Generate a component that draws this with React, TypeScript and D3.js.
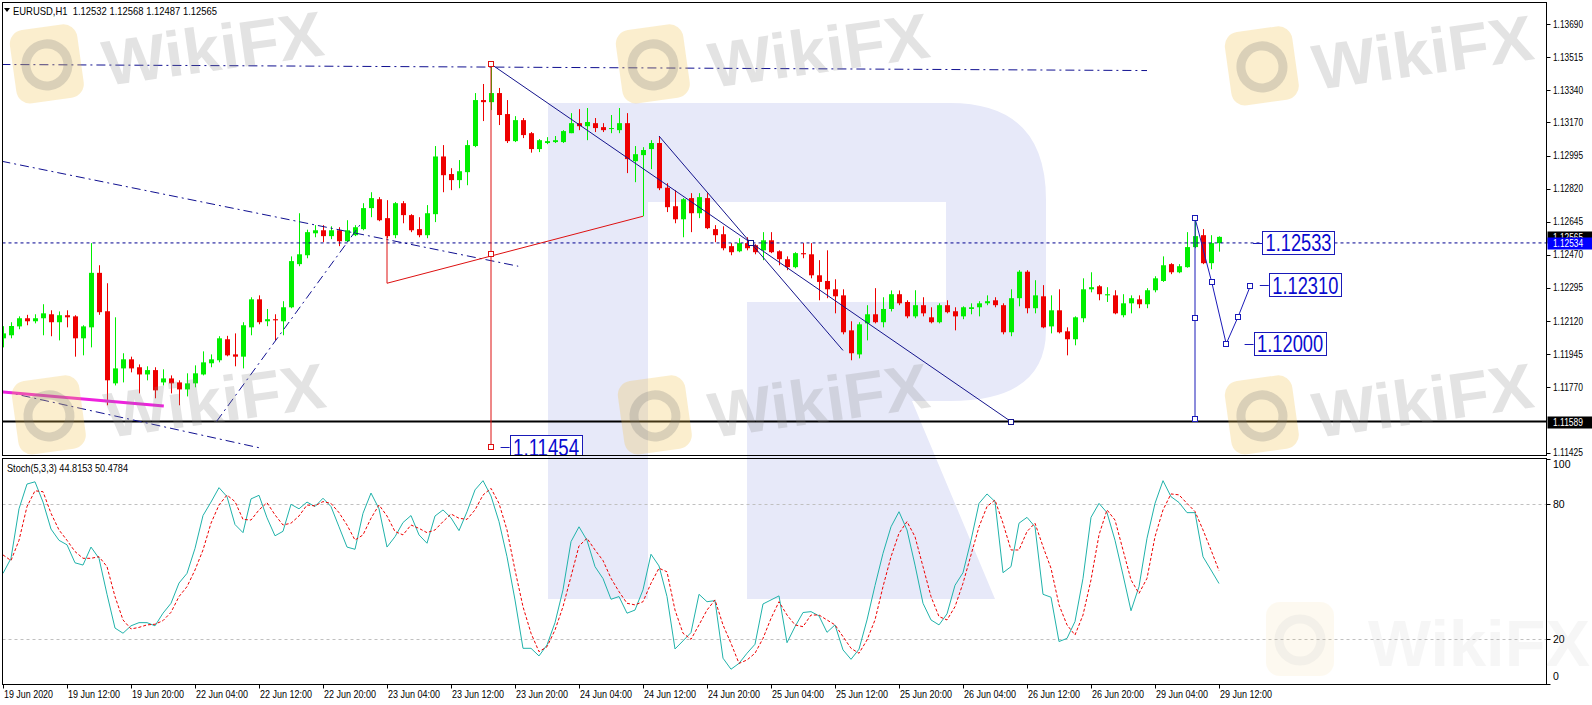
import React, { useEffect, useRef } from 'react'
import * as d3 from 'd3'

// EURUSD H1, bars from 19 Jun 2020 04:00 to 29 Jun 2020 12:00
const opens = [
  1.12029, 1.12045, 1.12092, 1.12135, 1.12119, 1.12135, 1.12156, 1.12114, 1.12151, 1.12145,
  1.12029, 1.12087, 1.12375, 1.12172, 1.11791, 1.11870, 1.11918, 1.11876, 1.11838, 1.11861,
  1.11796, 1.11817, 1.11796, 1.11759, 1.11791, 1.11838, 1.11897, 1.11913, 1.12024, 1.11944,
  1.11932, 1.12087, 1.12235, 1.12119, 1.12130, 1.12119, 1.12193, 1.12421, 1.12468, 1.12584,
  1.12600, 1.12569, 1.12600, 1.12542, 1.12574, 1.12606, 1.12717, 1.12764, 1.12664, 1.12574,
  1.12743, 1.12680, 1.12606, 1.12574, 1.12685, 1.12990, 1.12897, 1.12865, 1.12907, 1.13045,
  1.13288, 1.13277, 1.13325, 1.13214, 1.13071, 1.13182, 1.13113, 1.13029, 1.13061, 1.13066,
  1.13066, 1.13113, 1.13166, 1.13150, 1.13166, 1.13145, 1.13135, 1.13129, 1.13166, 1.12965,
  1.12997, 1.13029, 1.13061, 1.12825, 1.12727, 1.12658, 1.12770, 1.12690, 1.12770, 1.12606,
  1.12579, 1.12516, 1.12489, 1.12532, 1.12521, 1.12494, 1.12547, 1.12489, 1.12447, 1.12405,
  1.12479, 1.12473, 1.12362, 1.12332, 1.12288, 1.12256, 1.12071, 1.11944, 1.12108, 1.12156,
  1.12114, 1.12184, 1.12262, 1.12221, 1.12145, 1.12204, 1.12140, 1.12114, 1.12204, 1.12172,
  1.12145, 1.12184, 1.12193, 1.12214, 1.12230, 1.12204, 1.12061, 1.12241, 1.12381, 1.12188,
  1.12251, 1.12092, 1.12177, 1.12066, 1.12024, 1.12135, 1.12288, 1.12304, 1.12256, 1.12256,
  1.12151, 1.12214, 1.12235, 1.12209, 1.12283, 1.12332, 1.12421, 1.12378, 1.12405, 1.12511,
  1.12574, 1.12426, 1.12532,
]
const highs = [
  1.12093, 1.12114, 1.12145, 1.12153, 1.12156, 1.12209, 1.12177, 1.12171, 1.12177, 1.12151,
  1.12098, 1.12532, 1.12415, 1.12320, 1.12140, 1.11950, 1.11932, 1.11891, 1.11881, 1.11876,
  1.11865, 1.11833, 1.11807, 1.11844, 1.11886, 1.11960, 1.11944, 1.12040, 1.12042, 1.12055,
  1.12114, 1.12246, 1.12256, 1.12184, 1.12156, 1.12225, 1.12462, 1.12690, 1.12603, 1.12627,
  1.12627, 1.12621, 1.12616, 1.12653, 1.12627, 1.12743, 1.12801, 1.12775, 1.12759, 1.12749,
  1.12754, 1.12685, 1.12669, 1.12733, 1.13045, 1.13050, 1.12928, 1.12971, 1.13076, 1.13325,
  1.13373, 1.13468, 1.13352, 1.13288, 1.13203, 1.13193, 1.13119, 1.13082, 1.13092, 1.13098,
  1.13129, 1.13219, 1.13240, 1.13246, 1.13193, 1.13166, 1.13209, 1.13246, 1.13219, 1.13045,
  1.13039, 1.13076, 1.13098, 1.12849, 1.12812, 1.12770, 1.12796, 1.12796, 1.12796, 1.12627,
  1.12621, 1.12532, 1.12558, 1.12563, 1.12526, 1.12590, 1.12590, 1.12494, 1.12462, 1.12484,
  1.12532, 1.12532, 1.12442, 1.12494, 1.12341, 1.12288, 1.12119, 1.12114, 1.12204, 1.12294,
  1.12246, 1.12282, 1.12282, 1.12230, 1.12283, 1.12246, 1.12193, 1.12214, 1.12230, 1.12193,
  1.12198, 1.12214, 1.12225, 1.12256, 1.12246, 1.12214, 1.12288, 1.12389, 1.12389, 1.12336,
  1.12310, 1.12256, 1.12288, 1.12087, 1.12145, 1.12346, 1.12378, 1.12310, 1.12299, 1.12283,
  1.12262, 1.12256, 1.12256, 1.12294, 1.12357, 1.12462, 1.12426, 1.12421, 1.12590, 1.12664,
  1.12606, 1.12574, 1.12568,
]
const lows = [
  1.11981, 1.12029, 1.12077, 1.12098, 1.12108, 1.12045, 1.12040, 1.12018, 1.12087, 1.11932,
  1.11939, 1.11981, 1.12153, 1.11675, 1.11780, 1.11796, 1.11849, 1.11738, 1.11807, 1.11712,
  1.11780, 1.11738, 1.11675, 1.11722, 1.11770, 1.11833, 1.11876, 1.11902, 1.11934, 1.11881,
  1.11870, 1.12045, 1.12103, 1.12093, 1.12018, 1.12045, 1.12188, 1.12410, 1.12452, 1.12563,
  1.12537, 1.12553, 1.12516, 1.12537, 1.12569, 1.12600, 1.12669, 1.12648, 1.12558, 1.12558,
  1.12637, 1.12590, 1.12563, 1.12558, 1.12643, 1.12801, 1.12812, 1.12822, 1.12838, 1.13039,
  1.13177, 1.13235, 1.13156, 1.13061, 1.13066, 1.13087, 1.13010, 1.13013, 1.13055, 1.13061,
  1.13061, 1.13113, 1.13129, 1.13076, 1.13119, 1.13119, 1.13113, 1.13113, 1.12902, 1.12854,
  1.12674, 1.12923, 1.12812, 1.12696, 1.12637, 1.12563, 1.12590, 1.12664, 1.12606, 1.12537,
  1.12494, 1.12468, 1.12484, 1.12494, 1.12473, 1.12442, 1.12479, 1.12415, 1.12389, 1.12399,
  1.12452, 1.12346, 1.12230, 1.12241, 1.12161, 1.12050, 1.11913, 1.11923, 1.12018, 1.12108,
  1.12087, 1.12171, 1.12204, 1.12135, 1.12135, 1.12145, 1.12108, 1.12108, 1.12161, 1.12071,
  1.12130, 1.12156, 1.12145, 1.12204, 1.12193, 1.12050, 1.12040, 1.12198, 1.12161, 1.12161,
  1.12082, 1.12055, 1.12055, 1.11939, 1.11992, 1.12114, 1.12272, 1.12230, 1.12221, 1.12156,
  1.12140, 1.12161, 1.12188, 1.12188, 1.12272, 1.12327, 1.12368, 1.12373, 1.12402, 1.12505,
  1.12421, 1.12394, 1.12487,
]
const closes = [
  1.12055, 1.12094, 1.12135, 1.12119, 1.12135, 1.12161, 1.12114, 1.12151, 1.12140, 1.12029,
  1.12092, 1.12375, 1.12167, 1.11807, 1.11870, 1.11918, 1.11870, 1.11838, 1.11861, 1.11754,
  1.11817, 1.11791, 1.11759, 1.11791, 1.11844, 1.11902, 1.11918, 1.12029, 1.11939, 1.11932,
  1.12098, 1.12235, 1.12114, 1.12130, 1.12124, 1.12193, 1.12437, 1.12473, 1.12590, 1.12600,
  1.12569, 1.12600, 1.12542, 1.12600, 1.12616, 1.12717, 1.12770, 1.12653, 1.12569, 1.12743,
  1.12680, 1.12600, 1.12574, 1.12690, 1.12990, 1.12891, 1.12865, 1.12912, 1.13050, 1.13288,
  1.13277, 1.13325, 1.13209, 1.13071, 1.13182, 1.13103, 1.13029, 1.13076, 1.13071, 1.13076,
  1.13124, 1.13166, 1.13150, 1.13172, 1.13140, 1.13129, 1.13140, 1.13166, 1.12976, 1.13002,
  1.13024, 1.13061, 1.12822, 1.12722, 1.12658, 1.12764, 1.12690, 1.12775, 1.12611, 1.12574,
  1.12505, 1.12484, 1.12532, 1.12505, 1.12484, 1.12547, 1.12484, 1.12447, 1.12405, 1.12479,
  1.12473, 1.12362, 1.12327, 1.12288, 1.12251, 1.12061, 1.11950, 1.12103, 1.12156, 1.12114,
  1.12184, 1.12262, 1.12214, 1.12145, 1.12204, 1.12161, 1.12114, 1.12204, 1.12167, 1.12145,
  1.12193, 1.12193, 1.12214, 1.12225, 1.12204, 1.12061, 1.12241, 1.12381, 1.12188, 1.12256,
  1.12087, 1.12177, 1.12061, 1.12024, 1.12140, 1.12288, 1.12299, 1.12262, 1.12262, 1.12161,
  1.12214, 1.12241, 1.12209, 1.12283, 1.12346, 1.12415, 1.12378, 1.12410, 1.12511, 1.12569,
  1.12426, 1.12532, 1.12565,
]

// Stoch(5,3,3): main line and signal line
const stochMain = [
  49.3, 56, 78, 89, 90, 81, 69, 64, 62, 54, 53, 61, 56, 40, 25, 22.7, 26, 27.4, 27.4, 26,
  31.6, 36, 45, 49.3, 60.4, 75, 81, 87.4, 83.4, 71, 67.4, 82.4, 84, 74, 66, 68, 80, 78, 81, 79,
  82.7, 79, 70, 61, 60, 76, 85, 78, 61, 65.6, 71.9, 75, 66.4, 62.7, 74.8, 77.5, 74, 68.3, 76.7, 86.4,
  90.5, 83.7, 72.3, 56.7, 37.5, 16, 16, 12.6, 17.5, 27.4, 42, 63.4, 70, 64, 52.3, 47, 37.8, 39, 31.6, 33,
  42, 57.8, 52.6, 39, 15.7, 19.3, 23, 40, 36.7, 37.2, 11.6, 6.7, 9.3, 13.8, 17.8, 35.7, 37.5, 39.3, 18.5, 25.6,
  31.9, 32.3, 30.4, 23.1, 26.4, 15.3, 11.1, 15.6, 28.6, 43.9, 58.2, 70, 76.7, 68.6, 53, 36, 28.6, 26.4, 31.3, 44,
  49.6, 64, 80.4, 84.6, 81.2, 49.6, 52.3, 71.6, 74.2, 70, 40, 38.7, 19, 20.4, 27.9, 47.1, 74.2, 80.4, 76.3, 64,
  48.6, 32.7, 43.4, 64.9, 80.4, 90.5, 83.4, 80.8, 76.3, 76.3, 56.7, 50.8, 44.8,
]
const stochSignal = [
  57.5, 55, 64, 79, 86, 85.6, 76, 68.6, 64, 59, 56, 56, 56.7, 52.3, 39, 28.6, 24.6, 25.3, 26.4, 26.7,
  28.3, 32, 39, 43.4, 50.8, 59.7, 71.6, 79.7, 84.1, 81.2, 73.3, 73, 77.5, 80.7, 75.3, 70.8, 71.6, 74.8, 79.7, 79.3,
  81.2, 80.4, 76.3, 70.8, 64.1, 66.4, 73.8, 79.7, 74.8, 67.9, 66.4, 70.8, 69.3, 67.4, 68.6, 72.3, 75.7, 73.8, 73.3, 77.5,
  84.1, 87.1, 80.4, 68.6, 50.8, 34.5, 22.7, 14.5, 16.7, 24.1, 34.5, 47.9, 61.5, 64.9, 59.7, 55, 47.1, 41.2, 36, 35.3,
  36.7, 44.9, 51.6, 50, 33, 22.7, 20, 26.4, 33, 37.5, 26.4, 18.2, 9.3, 10.8, 13.8, 20.4, 29.3, 36.7, 30.8, 26.4,
  25.6, 30.8, 30.8, 28.6, 26.4, 21.2, 16, 13.8, 19.7, 28.6, 43.4, 56.7, 67.1, 72.3, 65.6, 52.3, 39, 30.1, 28.6, 34.5,
  44.9, 57.5, 70, 79, 81.9, 71.6, 59.7, 59.7, 67.9, 71.6, 61.2, 51.6, 35.3, 26.4, 21.9, 30.8, 46.4, 66.4, 77.5, 73,
  59.7, 46.4, 40.4, 47.1, 65.6, 77.5, 84.6, 84.2, 80.4, 76.8, 68.6, 59.7, 50.5,
]

// one label every 8 bars
const timeLabels = [
  '19 Jun 2020', '19 Jun 12:00', '19 Jun 20:00', '22 Jun 04:00', '22 Jun 12:00',
  '22 Jun 20:00', '23 Jun 04:00', '23 Jun 12:00', '23 Jun 20:00', '24 Jun 04:00',
  '24 Jun 12:00', '24 Jun 20:00', '25 Jun 04:00', '25 Jun 12:00', '25 Jun 20:00',
  '26 Jun 04:00', '26 Jun 12:00', '26 Jun 20:00', '29 Jun 04:00', '29 Jun 12:00',
]
const priceTicks = [
  1.1369, 1.13515, 1.1334, 1.1317, 1.12995, 1.1282, 1.12645, 1.1247, 1.12295, 1.1212,
  1.11945, 1.1177, 1.11425,
]
const stochTicks = [100, 80, 20, 0]
const stochLevels = [80, 20]

// objects on the chart, as [bar index, price]
const dashDotLines = [
  [[-0.2, 1.13476], [143, 1.13444]],
  [[-0.2, 1.12965], [64.4, 1.1241]],
  [[0, 1.11749], [32.4, 1.11447]],
  [[26.7, 1.1159], [44.6, 1.12627]],
]
const magentaLine = [[0, 1.11745], [20.1, 1.11671]]
const redVertical = [[61, 1.13478], [61, 1.11456]]
const redFork = [[48, 1.12569], [48, 1.1232], [80, 1.12674]]
const redMarks = [[61, 1.13478], [61, 1.12472], [61, 1.11456]]
const blueLines = [
  [[61, 1.13478], [126, 1.11589]],
  [[82, 1.13098], [105, 1.11965]],
]
const blueMarks = [[93.45, 1.12533], [126, 1.11589]]
const forecastVertical = [[149, 1.12664], [149, 1.116]]
const forecastPath = [[149, 1.12664], [151.1, 1.12324], [152.9, 1.12], [154.4, 1.12144], [155.9, 1.12304]]
const forecastMarks = [[149, 1.12664], [149, 1.12134], [149, 1.116], [151.1, 1.12324], [152.9, 1.12], [154.4, 1.12144], [155.9, 1.12304]]
const levelLabels = [
  { text: '1.12533', price: 1.12533, bar: 156.25 },
  { text: '1.12310', price: 1.1231, bar: 157.1 },
  { text: '1.12000', price: 1.12, bar: 155.2 },
  { text: '1.11454', price: 1.11454, bar: 62.2 },
]
const dottedLevel = 1.12533
const supportLevel = 1.11589
const axisMarkers = [
  { text: '1.12565', price: 1.12565, fill: '#000000' },
  { text: '1.12534', price: 1.12534, fill: '#0000ff' },
  { text: '1.11589', price: 1.11589, fill: '#000000' },
]

const W = 1592
const H = 705
const NARROW = "'Liberation Sans Narrow', 'Liberation Sans', Arial, sans-serif"
const BOLD = "'Liberation Sans', Arial, sans-serif"

// background logo letter
const R_PATH =
  'M548,103 L950,103 Q1046,103 1046,200 L1046,330 Q1046,401 950,401 L912,401 L995,599 L747,599 L747,302 L946,302 L946,202 L648,202 L648,599 L548,599 Z'

const watermarks = [
  { lx: 8, ly: 32, tx: 106, ty: 86, r: -8, o: 1 },
  { lx: 614, ly: 32, tx: 712, ty: 88, r: -8, o: 1 },
  { lx: 1223, ly: 34, tx: 1316, ty: 90, r: -8, o: 1 },
  { lx: 10, ly: 383, tx: 108, ty: 438, r: -8, o: 1 },
  { lx: 616, ly: 383, tx: 712, ty: 438, r: -8, o: 1 },
  { lx: 1223, ly: 383, tx: 1316, ty: 438, r: -8, o: 1 },
  { lx: 1266, ly: 602, tx: 1368, ty: 666, r: 0, o: 0.3 },
]

const App = () => {
  const svgRef = useRef<SVGSVGElement>(null)

  useEffect(() => {
    document.body.style.margin = '0'
    drawChart()
  }, [])

  const drawChart = () => {
    const svg: any = d3.select(svgRef.current)
    svg.selectAll('*').remove()

    const x = d3.scaleLinear([0, 152], [3, 1219])
    const y = d3.scaleLinear([1.11425, 1.1369], [452.6, 24])
    const ys = d3.scaleLinear([0, 100], [684.3, 459.3])

    const left = 2.5
    const right = 1546.5
    const mainTop = 2.5
    const mainBottom = 455.5
    const subTop = 458.5
    const subBottom = 684.5

    const defs = svg.append('defs')
    defs.append('clipPath').attr('id', 'clipMain')
      .append('rect').attr('x', 3).attr('y', 3).attr('width', right - 3).attr('height', mainBottom - 3)
    defs.append('clipPath').attr('id', 'clipSub')
      .append('rect').attr('x', 3).attr('y', subTop).attr('width', right - 3).attr('height', subBottom - subTop)

    svg.append('rect').attr('width', W).attr('height', H).attr('fill', '#ffffff')

    svg.append('path').attr('d', R_PATH).attr('fill', '#e7e9f9')

    const px = (d: number[]) => x(d[0])
    const py = (d: number[]) => y(d[1])
    const line = d3.line<number[]>().x(px).y(py)

    // main window
    const g = svg.append('g').attr('clip-path', 'url(#clipMain)')

    g.append('line')
      .attr('x1', left).attr('x2', right)
      .attr('y1', y(supportLevel)).attr('y2', y(supportLevel))
      .attr('stroke', '#000').attr('stroke-width', 2)

    const bars = d3.range(opens.length)
    const bull = (i: number) => closes[i] >= opens[i]
    const colour = (i: number) => (bull(i) ? '#00ee00' : '#ee0000')

    g.selectAll('.wick')
      .data(bars)
      .join('line')
      .attr('class', 'wick')
      .attr('x1', (i: number) => Math.round(x(i)) + 0.5)
      .attr('x2', (i: number) => Math.round(x(i)) + 0.5)
      .attr('y1', (i: number) => y(highs[i]))
      .attr('y2', (i: number) => y(lows[i]))
      .attr('stroke', colour)

    g.selectAll('.body')
      .data(bars)
      .join('rect')
      .attr('class', 'body')
      .attr('x', (i: number) => Math.round(x(i)) - 2)
      .attr('width', 5)
      .attr('y', (i: number) => y(Math.max(opens[i], closes[i])))
      .attr('height', (i: number) => Math.max(1, Math.abs(y(opens[i]) - y(closes[i]))))
      .attr('fill', colour)

    g.append('line')
      .attr('x1', left).attr('x2', right)
      .attr('y1', y(dottedLevel)).attr('y2', y(dottedLevel))
      .attr('stroke', '#000090').attr('stroke-dasharray', '3,3')

    g.selectAll('.dashdot')
      .data(dashDotLines)
      .join('path')
      .attr('class', 'dashdot')
      .attr('d', (d: any) => line(d))
      .attr('fill', 'none')
      .attr('stroke', '#101090')
      .attr('stroke-dasharray', '9,4,2,4')

    g.append('path').attr('d', line(magentaLine as any))
      .attr('stroke', '#ee22dd').attr('stroke-width', 3).attr('fill', 'none')

    g.append('path').attr('d', line(redVertical as any)).attr('stroke', '#dd1010').attr('fill', 'none')
    g.append('path').attr('d', line(redFork as any)).attr('stroke', '#dd1010').attr('fill', 'none')

    g.selectAll('.blue')
      .data(blueLines)
      .join('path')
      .attr('class', 'blue')
      .attr('d', (d: any) => line(d))
      .attr('fill', 'none')
      .attr('stroke', '#14148c')

    g.append('path').attr('d', line(forecastVertical as any)).attr('stroke', '#1a1ab8').attr('fill', 'none')
    g.append('path').attr('d', line(forecastPath as any)).attr('stroke', '#1a1ab8').attr('fill', 'none')

    const marks = (data: number[][], stroke: string) =>
      g.append('g').selectAll('rect')
        .data(data)
        .join('rect')
        .attr('x', (d: number[]) => Math.round(px(d)) - 2.5)
        .attr('y', (d: number[]) => Math.round(py(d)) - 2.5)
        .attr('width', 5).attr('height', 5)
        .attr('fill', '#fff').attr('stroke', stroke)
    marks(redMarks, '#dd1010')
    marks(blueMarks, '#14148c')
    marks(forecastMarks, '#1a1ab8')

    const lab = g.selectAll('.lvl').data(levelLabels).join('g').attr('class', 'lvl')
    lab.append('line')
      .attr('x1', (d: any) => x(d.bar)).attr('x2', (d: any) => x(d.bar) + 9)
      .attr('y1', (d: any) => Math.round(y(d.price)) + 0.5).attr('y2', (d: any) => Math.round(y(d.price)) + 0.5)
      .attr('stroke', '#1a1ab8')
    lab.append('rect')
      .attr('x', (d: any) => Math.round(x(d.bar) + 9) + 0.5)
      .attr('y', (d: any) => Math.round(y(d.price)) - 11.5)
      .attr('width', 72).attr('height', 23)
      .attr('fill', '#fff').attr('stroke', '#1a1ab8')
    lab.append('text')
      .attr('x', (d: any) => x(d.bar) + 12.5)
      .attr('y', (d: any) => y(d.price) + 8.5)
      .attr('font-family', NARROW).attr('font-size', 23)
      .attr('textLength', 66).attr('lengthAdjust', 'spacingAndGlyphs')
      .attr('fill', '#0a0ad0')
      .text((d: any) => d.text)

    // stochastic window
    const s = svg.append('g').attr('clip-path', 'url(#clipSub)')
    s.selectAll('.lvl')
      .data(stochLevels)
      .join('line')
      .attr('x1', left).attr('x2', right)
      .attr('y1', (v: number) => Math.round(ys(v)) + 0.5).attr('y2', (v: number) => Math.round(ys(v)) + 0.5)
      .attr('stroke', '#c0c0c0').attr('stroke-dasharray', '3,3')

    const sLine = d3.line<number>().x((_, i) => x(i)).y((v) => ys(v))
    s.append('path').attr('d', sLine(stochMain)).attr('fill', 'none').attr('stroke', '#20b2aa')
    s.append('path').attr('d', sLine(stochSignal)).attr('fill', 'none')
      .attr('stroke', '#ee0000').attr('stroke-dasharray', '3,2')

    // frames
    svg.append('rect').attr('x', left).attr('y', mainTop)
      .attr('width', right - left).attr('height', mainBottom - mainTop)
      .attr('fill', 'none').attr('stroke', '#000')
    svg.append('rect').attr('x', left).attr('y', subTop)
      .attr('width', right - left).attr('height', subBottom - subTop)
      .attr('fill', 'none').attr('stroke', '#000')

    // price axis
    const pa = svg.append('g')
    pa.selectAll('line')
      .data(priceTicks)
      .join('line')
      .attr('x1', right).attr('x2', right + 4)
      .attr('y1', (v: number) => Math.round(y(v)) + 0.5).attr('y2', (v: number) => Math.round(y(v)) + 0.5)
      .attr('stroke', '#000')
    pa.selectAll('text')
      .data(priceTicks)
      .join('text')
      .attr('x', 1553).attr('y', (v: number) => y(v) + 3.5)
      .attr('font-family', NARROW).attr('font-size', 10.5)
      .attr('textLength', 30).attr('lengthAdjust', 'spacingAndGlyphs')
      .text((v: number) => v.toFixed(5))

    const am = svg.append('g').selectAll('g').data(axisMarkers).join('g')
    am.append('rect')
      .attr('x', right + 1).attr('y', (d: any) => Math.round(y(d.price)) - 5.5)
      .attr('width', W - right).attr('height', 12)
      .attr('fill', (d: any) => d.fill)
    am.append('text')
      .attr('x', 1553).attr('y', (d: any) => y(d.price) + 4)
      .attr('font-family', NARROW).attr('font-size', 10.5)
      .attr('textLength', 30).attr('lengthAdjust', 'spacingAndGlyphs')
      .attr('fill', '#fff')
      .text((d: any) => d.text)

    // stochastic axis
    const sa = svg.append('g')
    sa.selectAll('line')
      .data(stochTicks)
      .join('line')
      .attr('x1', right).attr('x2', right + 4)
      .attr('y1', (v: number) => Math.round(ys(v)) + 0.5).attr('y2', (v: number) => Math.round(ys(v)) + 0.5)
      .attr('stroke', '#000')
    sa.selectAll('text')
      .data(stochTicks)
      .join('text')
      .attr('x', 1553)
      .attr('y', (v: number) => Math.min(ys(0) - 4, Math.max(ys(100) + 9, ys(v) + 3.5)))
      .attr('font-family', NARROW).attr('font-size', 10.5)
      .text((v: number) => String(v))

    // time axis
    const ta = svg.append('g')
    ta.selectAll('line')
      .data(timeLabels)
      .join('line')
      .attr('x1', (_: string, k: number) => Math.round(x(k * 8)) + 0.5)
      .attr('x2', (_: string, k: number) => Math.round(x(k * 8)) + 0.5)
      .attr('y1', subBottom).attr('y2', subBottom + 4)
      .attr('stroke', '#000')
    ta.selectAll('text')
      .data(timeLabels)
      .join('text')
      .attr('x', (_: string, k: number) => x(k * 8) + 1)
      .attr('y', 697.5)
      .attr('font-family', NARROW).attr('font-size', 10.5)
      .attr('textLength', (d: string) => (d.includes(':') ? 52 : 49))
      .attr('lengthAdjust', 'spacingAndGlyphs')
      .text((d: string) => d)

    // titles
    svg.append('path').attr('d', 'M4,8 L10,8 L7,12 Z').attr('fill', '#000')
    svg.append('text').attr('x', 13).attr('y', 14.5)
      .attr('font-family', NARROW).attr('font-size', 10.5)
      .attr('xml:space', 'preserve')
      .attr('textLength', 204).attr('lengthAdjust', 'spacingAndGlyphs')
      .text('EURUSD,H1  1.12532 1.12568 1.12487 1.12565')
    svg.append('text').attr('x', 7).attr('y', 471.5)
      .attr('font-family', NARROW).attr('font-size', 10.5)
      .attr('textLength', 121).attr('lengthAdjust', 'spacingAndGlyphs')
      .text('Stoch(5,3,3) 44.8153 50.4784')

    // watermarks
    const wm = svg.append('g').attr('pointer-events', 'none')
    watermarks.forEach((w) => {
      const lg = wm.append('g')
        .attr('transform', `translate(${w.lx},${w.ly}) rotate(${w.r})`)
        .attr('opacity', w.o)
      lg.append('rect').attr('width', 68).attr('height', 74).attr('rx', 14)
        .attr('fill', '#f2c14e').attr('opacity', 0.28)
      lg.append('circle').attr('cx', 34).attr('cy', 38).attr('r', 21)
        .attr('fill', 'none').attr('stroke', '#777').attr('stroke-width', 9).attr('opacity', 0.25)
      wm.append('text')
        .attr('transform', `translate(${w.tx},${w.ty}) rotate(${w.r})`)
        .attr('font-family', BOLD).attr('font-weight', 'bold').attr('font-size', 64)
        .attr('textLength', 222).attr('lengthAdjust', 'spacingAndGlyphs')
        .attr('fill', '#8c8c8c').attr('opacity', 0.24 * w.o)
        .text('WikiFX')
    })
  }

  return <svg ref={svgRef} width={W} height={H} style={{ display: 'block' }}></svg>
}

export default App
